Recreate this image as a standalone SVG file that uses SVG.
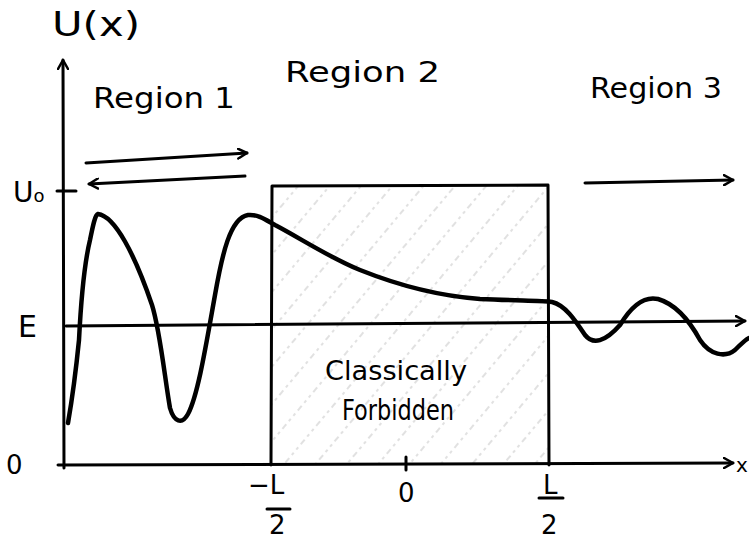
<svg xmlns="http://www.w3.org/2000/svg" width="749" height="539" viewBox="0 0 749 539">
<style>
.ln{fill:none;stroke:#000;stroke-width:3;stroke-linecap:round;stroke-linejoin:round}
.cv{fill:none;stroke:#000;stroke-width:4.5;stroke-linecap:round;stroke-linejoin:round}
.t{font-family:"DejaVu Sans","Liberation Sans",sans-serif;fill:#000}
</style>
<defs>
<pattern id="hatch" patternUnits="userSpaceOnUse" width="24" height="24" patternTransform="rotate(-50)">
<line x1="0" y1="12" x2="24" y2="12" stroke="#c4c4c4" stroke-width="1.2" stroke-dasharray="3 4"/>
</pattern>
<marker id="ah" viewBox="0 0 12 12" refX="10" refY="6" markerWidth="12" markerHeight="12" markerUnits="userSpaceOnUse" orient="auto">
<path d="M1,1 L10,6 L1,11" fill="none" stroke="#000" stroke-width="2.5" stroke-linecap="round" stroke-linejoin="round"/>
</marker>
</defs>
<g id="barrier">
<rect x="271" y="186" width="278" height="279" fill="url(#hatch)"/>
<path class="ln" d="M271,465 L272,186 L548,185 L549,465"/>
</g>
<g id="connectors">
<path class="ln" d="M64,468 L63,60" marker-end="url(#ah)"/>
<path class="ln" d="M58,465 L733,463" marker-end="url(#ah)"/>
<path class="ln" d="M66,326 L745,321" marker-end="url(#ah)"/>
<path class="ln" d="M57,191 L76,191"/>
<path class="ln" d="M406,457 L406,470"/>
<path class="ln" d="M86,163 L247,153" marker-end="url(#ah)"/>
<path class="ln" d="M245,176 L89,184" marker-end="url(#ah)"/>
<path class="ln" d="M585,183 L733,180" marker-end="url(#ah)"/>
</g>
<g id="curve">
<path class="cv" d="M68,423 C72,400 76,370 79,340 C81,300 84,265 90,240 C93,225 95,215 98,214 C115,216 135,255 152,305 C160,330 165,380 170,408 C174,422 182,425 188,414 C198,395 206,345 215,295 C222,255 230,218 248,215 C258,214 266,220 275,225 C300,238 330,258 360,270 C400,286 440,296 480,299 C520,301 540,300 552,302 C565,305 575,320 585,335 C593,345 605,342 620,325 C632,305 645,296 658,299 C675,304 688,318 700,340 C710,355 725,358 735,350 C740,345 745,340 749,338"/>
</g>
<g id="labels">
<text class="t" x="52" y="36" font-size="34" textLength="88" lengthAdjust="spacingAndGlyphs">U(x)</text>
<text class="t" x="93" y="108" font-size="28" textLength="142" lengthAdjust="spacingAndGlyphs">Region 1</text>
<text class="t" x="285" y="82" font-size="28" textLength="155" lengthAdjust="spacingAndGlyphs">Region 2</text>
<text class="t" x="590" y="98" font-size="28" textLength="132" lengthAdjust="spacingAndGlyphs">Region 3</text>
<text class="t" x="13" y="202" font-size="28">U<tspan font-size="18">o</tspan></text>
<text class="t" x="18" y="337" font-size="30">E</text>
<text class="t" x="6" y="474" font-size="26">0</text>
<text class="t" x="736" y="472" font-size="20">x</text>
<text class="t" x="325" y="380" font-size="26" textLength="142" lengthAdjust="spacingAndGlyphs">Classically</text>
<text class="t" x="342" y="420" font-size="28" textLength="112" lengthAdjust="spacingAndGlyphs">Forbidden</text>
<text class="t" x="398" y="502" font-size="26">0</text>
<text class="t" x="248" y="494" font-size="26">−L</text>
<path class="ln" d="M267,509 L290,509"/>
<text class="t" x="269" y="534" font-size="26">2</text>
<text class="t" x="543" y="494" font-size="26">L</text>
<path class="ln" d="M539,498 L563,498"/>
<text class="t" x="541" y="534" font-size="26">2</text>
</g>
</svg>
